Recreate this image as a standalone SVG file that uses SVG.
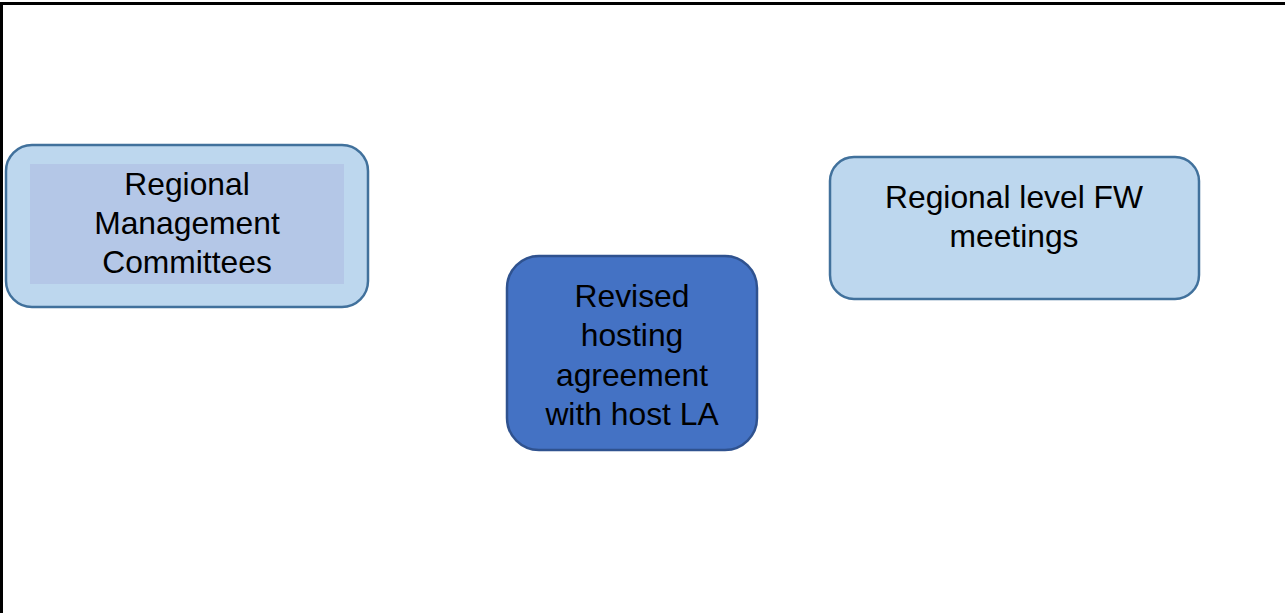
<svg xmlns="http://www.w3.org/2000/svg" width="1285" height="613" viewBox="0 0 1285 613">
<style>
.t{font-family:"Liberation Sans",Arial,sans-serif;font-size:31.8px;fill:#000;text-anchor:middle}
.light{fill:#bdd7ee;stroke:#41719c;stroke-width:2.5}
.dark{fill:#4472c4;stroke:#2f528f;stroke-width:2.5}
</style>
<rect x="0" y="0" width="1285" height="613" fill="#fff"/>
<path d="M1.5 613 V3.5 H1285" fill="none" stroke="#000" stroke-width="3"/>
<g id="connectors"></g>
<g id="node-rmc">
<rect class="light" x="6" y="145" width="362" height="162" rx="26"/>
<rect x="30" y="164" width="314" height="120" fill="#b4c7e7"/>
<text class="t" x="187" y="195">Regional</text>
<text class="t" x="187" y="234">Management</text>
<text class="t" x="187" y="273">Committees</text>
</g>
<g id="node-hosting">
<rect class="dark" x="507" y="256" width="250" height="194" rx="32"/>
<text class="t" x="632" y="307">Revised</text>
<text class="t" x="632" y="346">hosting</text>
<text class="t" x="632" y="386">agreement</text>
<text class="t" x="632" y="425">with host LA</text>
</g>
<g id="node-fw">
<rect class="light" x="830" y="157" width="369" height="142" rx="24"/>
<text class="t" x="1014" y="208">Regional level FW</text>
<text class="t" x="1014" y="247">meetings</text>
</g>
</svg>
